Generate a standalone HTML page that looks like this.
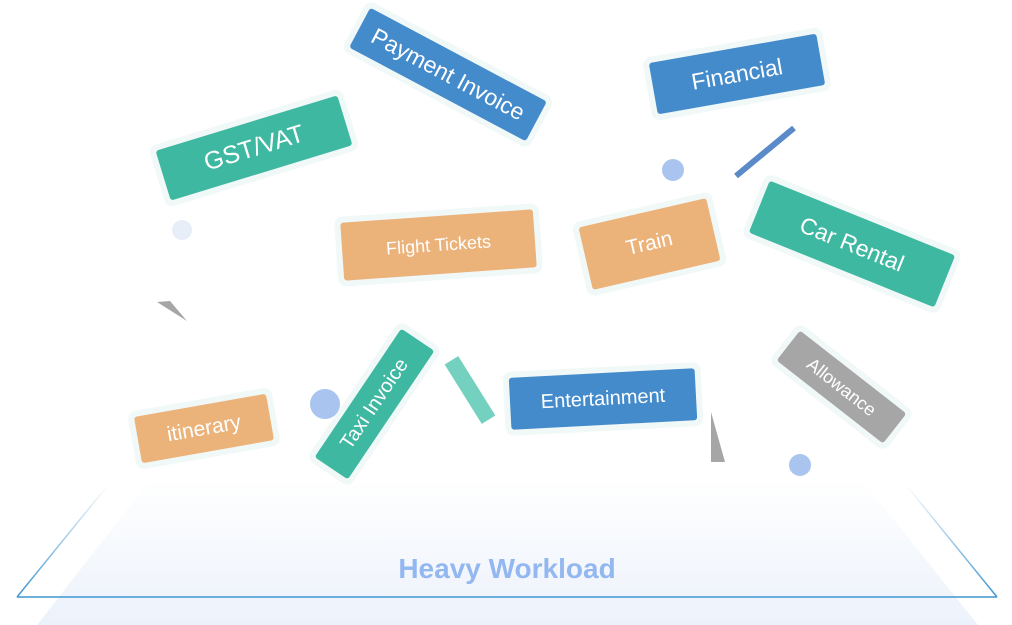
<!DOCTYPE html>
<html><head><meta charset="utf-8"><style>
html,body{margin:0;padding:0;background:#fff;}
#c{position:relative;width:1012px;height:625px;overflow:hidden;font-family:"Liberation Sans",sans-serif;}
.b{position:absolute;display:flex;align-items:center;justify-content:center;color:#fff;border-radius:3px;box-shadow:0 0 0 6px #f1f8f8;white-space:nowrap;}
.t{background:#3fb8a1}.bl{background:#448bcb}.o{background:#ebb27a}.g{background:#a6a6a6}
</style></head><body><div id="c">
<svg width="1012" height="625" style="position:absolute;left:0;top:0">
<defs>
<linearGradient id="f" x1="0" y1="0" x2="0" y2="1"><stop offset="0" stop-color="#fff"/><stop offset="1" stop-color="#ecf2fb"/></linearGradient>
<linearGradient id="ll" x1="0" y1="1" x2="0" y2="0"><stop offset="0" stop-color="#3f95d0"/><stop offset="1" stop-color="#3f95d0" stop-opacity="0"/></linearGradient>
</defs>
<polygon points="150,480 862,480 978,625 37,625" fill="url(#f)"/>
<line x1="17" y1="597" x2="997" y2="597" stroke="#3f95d0" stroke-width="1.5"/>
<line x1="17" y1="597" x2="108" y2="485" stroke="url(#ll)" stroke-width="1.5"/>
<line x1="997" y1="597" x2="906" y2="485" stroke="url(#ll)" stroke-width="1.5"/>
<line x1="736" y1="176" x2="794" y2="128" stroke="#5b8ac8" stroke-width="6"/>
<circle cx="673" cy="170" r="11" fill="#a9c4ee"/>
<circle cx="182" cy="230" r="10" fill="#e8eef8"/>
<circle cx="325" cy="404" r="15" fill="#a9c4ee"/>
<circle cx="800" cy="465" r="11" fill="#a9c4ee"/>
<polygon points="157,302 170,301 187,321" fill="#a6a6a6"/>
<polygon points="711,412 725,462 711,462" fill="#a6a6a6"/>
<text x="507" y="578" text-anchor="middle" font-family="Liberation Sans" font-size="28" font-weight="bold" fill="#93b7f0">Heavy Workload</text>
</svg>
<div class="b" style="left:435px;top:382px;width:70px;height:16px;background:#74d0bf;border-radius:0;box-shadow:none;transform:rotate(58deg)"></div>
<div class="b bl" style="left:348px;top:52px;width:200px;height:45px;font-size:23px;transform:rotate(28deg)">Payment Invoice</div>
<div class="b t" style="left:159px;top:122px;width:190px;height:52px;font-size:25px;transform:rotate(-17deg)">GST/VAT</div>
<div class="b bl" style="left:652px;top:48px;width:170px;height:52px;font-size:23px;transform:rotate(-10deg)">Financial</div>
<div class="b t" style="left:752px;top:216px;width:200px;height:56px;font-size:23px;transform:rotate(22deg)">Car Rental</div>
<div class="b o" style="left:342px;top:216px;width:193px;height:58px;font-size:18px;transform:rotate(-4deg)">Flight Tickets</div>
<div class="b o" style="left:584px;top:212px;width:131px;height:64px;font-size:21px;transform:rotate(-13deg)">Train</div>
<div class="b o" style="left:137px;top:405px;width:134px;height:47px;font-size:21px;transform:rotate(-10deg)">itinerary</div>
<div class="b t" style="left:297px;top:384px;width:155px;height:40px;font-size:20px;transform:rotate(-56deg)">Taxi Invoice</div>
<div class="b bl" style="left:510px;top:373px;width:186px;height:52px;font-size:20px;transform:rotate(-3deg)">Entertainment</div>
<div class="b g" style="left:774px;top:368px;width:135px;height:38px;font-size:18px;transform:rotate(38deg)">Allowance</div>
</div></body></html>
